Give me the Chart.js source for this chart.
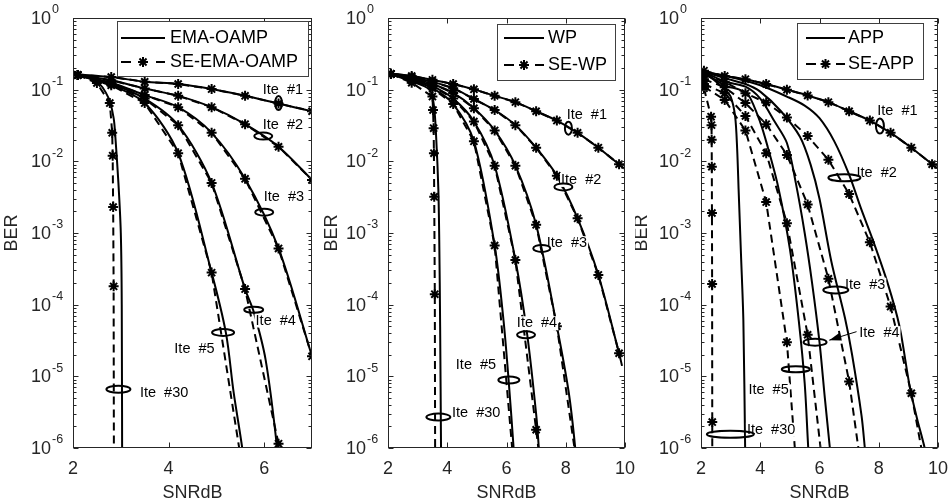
<!DOCTYPE html>
<html>
<head>
<meta charset="utf-8">
<script src="https://cdn.jsdelivr.net/npm/chart.js@4.4.0/dist/chart.umd.min.js"></script>
<style>
  html, body { margin: 0; padding: 0; background: #fff; }
  #wrap { position: relative; width: 950px; height: 504px; }
  canvas { position: absolute; top: 0; }
</style>
</head>
<body>
<div id="wrap">
  <canvas id="c1" width="320" height="504" style="left:0px"></canvas>
  <canvas id="c2" width="315" height="504" style="left:320px"></canvas>
  <canvas id="c3" width="315" height="504" style="left:635px"></canvas>
</div>
<script>
// axis ticks / labels
const snrTicks1 = [2, 4, 6];
const snrTicks23 = [2, 4, 6, 8, 10];
const berExp = [0, -1, -2, -3, -4, -5, -6];
const iteNames = ['Ite  #1', 'Ite  #2', 'Ite  #3', 'Ite  #4', 'Ite  #5', 'Ite  #30'];
const legendEma = ['EMA-OAMP', 'SE-EMA-OAMP'];
const legendWp = ['WP', 'SE-WP'];
const legendApp = ['APP', 'SE-APP'];

// ---- EMA-OAMP ----
const snrA = [2.1, 2.8, 3.5, 4.2, 4.9, 5.6, 6.3, 7.0];
const emaSe1 = [0.16, 0.15, 0.129, 0.12, 0.102, 0.082, 0.064, 0.05];
const emaSe2 = [0.16, 0.135, 0.104, 0.082, 0.057, 0.033, 0.016, 0.0055];
const emaSe3 = [0.16, 0.125, 0.084, 0.057, 0.025, 0.0057, 6.1e-4, 1.9e-5];
const emaSe4 = [0.16, 0.12, 0.075, 0.032, 0.005, 1.65e-4, 1.15e-6, 1e-9];
const emaSe5 = [0.16, 0.115, 0.065, 0.013, 2.8e-4, 3e-7];
const emaSe30X = [2.1, 2.5, 2.77, 2.82, 2.83, 2.84, 2.85, 2.86];
const emaSe30 = [0.16, 0.124, 0.065, 0.025, 0.012, 0.0023, 1.8e-4, 1e-8];

const emaSimX = [2, 2.8, 3.5, 4.2, 4.9, 5.6, 6.3, 7.0];
const emaSim1 = [0.165, 0.15, 0.129, 0.12, 0.102, 0.082, 0.064, 0.05];
const emaSim2 = [0.165, 0.135, 0.104, 0.082, 0.057, 0.033, 0.016, 0.0055];
const emaSim3 = [0.165, 0.125, 0.084, 0.057, 0.025, 0.0057, 6.1e-4, 1.9e-5];
const emaSim4X = [2, 2.8, 3.5, 4.2, 4.9, 5.6, 5.78, 6.03, 6.27, 6.32];
const emaSim4 = [0.165, 0.12, 0.075, 0.032, 0.005, 1.65e-4, 8e-5, 1.7e-5, 1e-6, 3e-7];
const emaSim5X = [2, 2.8, 3.5, 4.2, 4.9, 5.2, 5.36, 5.54, 5.58];
const emaSim5 = [0.165, 0.115, 0.065, 0.013, 2.8e-4, 4e-5, 6e-6, 1e-6, 5e-7];
const emaSim30X = [2, 2.5, 2.75, 2.85, 2.88, 2.95, 3.0, 3.02, 3.03];
const emaSim30 = [0.165, 0.13, 0.075, 0.04, 0.025, 0.005, 1e-3, 1e-4, 1e-7];

const emaOvalX = [6.3, 5.98, 6.0, 5.78, 5.14, 2.95];
const emaOvalY = [0.065, 0.0225, 0.00195, 8.5e-5, 4.1e-5, 6.6e-6];
const emaTagX = [5.97, 5.97, 5.99, 5.82, 4.12, 3.4];
const emaTagY = [0.1, 0.032, 0.0032, 6e-5, 2.4e-5, 5.9e-6];

// ---- WP ----
const snrB = [2.1, 2.8, 3.5, 4.2, 4.9, 5.6, 6.3, 7.0, 7.7, 8.4, 9.1, 9.8];
const wpSe1 = [0.166, 0.155, 0.137, 0.12, 0.101, 0.082, 0.067, 0.05, 0.037, 0.025, 0.0155, 0.0091];
const wpSe2 = [0.166, 0.15, 0.128, 0.105, 0.074, 0.052, 0.032, 0.0155, 0.0063, 0.0016, 2.6e-4, 2.1e-5];
const wpSe3 = [0.166, 0.145, 0.12, 0.09, 0.055, 0.027, 0.0087, 0.0013, 5e-5, 5e-7];
const wpSe4 = [0.166, 0.14, 0.112, 0.075, 0.036, 0.0087, 4.2e-4, 1.8e-6, 8e-9];
const wpSe5 = [0.166, 0.135, 0.105, 0.063, 0.019, 6.7e-4, 3e-7];
const wpSe30X = [2.1, 2.8, 3.5, 3.52, 3.54, 3.55, 3.56, 3.58, 3.6];
const wpSe30 = [0.166, 0.125, 0.08, 0.052, 0.029, 0.013, 0.0032, 1.4e-4, 1e-8];

const wpSim1X = [2, 2.8, 3.5, 4.2, 4.9, 5.6, 6.3, 7.0, 7.7, 8.4, 9.1, 9.8, 10];
const wpSim1 = [0.17, 0.155, 0.137, 0.12, 0.101, 0.082, 0.067, 0.05, 0.037, 0.025, 0.0155, 0.0091, 0.0078];
const wpSim2X = [2, 2.8, 3.5, 4.2, 4.9, 5.6, 6.3, 7.0, 7.7, 8.4, 9.1, 9.8, 9.9];
const wpSim2 = [0.17, 0.15, 0.128, 0.105, 0.074, 0.052, 0.032, 0.0155, 0.0063, 0.0016, 2.6e-4, 2.1e-5, 1.4e-5];
const wpSim3X = [2, 2.8, 3.5, 4.2, 4.9, 5.6, 6.3, 7.0, 7.7, 8.1, 8.32, 8.36];
const wpSim3 = [0.17, 0.145, 0.12, 0.09, 0.055, 0.027, 0.0087, 0.0013, 5e-5, 6e-6, 1e-6, 5e-7];
const wpSim4X = [2, 2.8, 3.5, 4.2, 4.9, 5.6, 6.3, 6.7, 7.0, 7.09, 7.12];
const wpSim4 = [0.17, 0.14, 0.112, 0.075, 0.036, 0.0087, 4.2e-4, 3.8e-5, 3e-6, 1e-6, 5e-7];
const wpSim5X = [2, 2.8, 3.5, 4.2, 4.9, 5.6, 5.9, 6.07, 6.24, 6.28];
const wpSim5 = [0.17, 0.135, 0.105, 0.063, 0.019, 6.7e-4, 6e-5, 9e-6, 1e-6, 5e-7];
const wpSim30X = [2, 2.8, 3.4, 3.55, 3.63, 3.7, 3.73, 3.76, 3.79, 3.8];
const wpSim30 = [0.17, 0.13, 0.1, 0.06, 0.02, 0.004, 8e-4, 5e-5, 1e-6, 3e-7];

const wpOvalX = [8.09, 7.92, 7.19, 6.66, 6.08, 3.7];
const wpOvalY = [0.029, 0.0044, 6.1e-4, 3.8e-5, 8.9e-6, 2.7e-6];
const wpTagX = [8.03, 7.84, 7.36, 6.35, 4.29, 4.16];
const wpTagY = [0.044, 0.0055, 7.2e-4, 5.5e-5, 1.45e-5, 3.1e-6];

// ---- APP ----
const snrC = [2.1, 2.8, 3.5, 4.2, 4.9, 5.6, 6.3, 7.0, 7.7, 8.4, 9.1, 9.8];
const appSe1 = [0.184, 0.155, 0.14, 0.12, 0.1, 0.083, 0.067, 0.05, 0.037, 0.025, 0.0155, 0.0091];
const appSe2 = [0.16, 0.129, 0.089, 0.066, 0.041, 0.0225, 0.0105, 0.0035, 7.4e-4, 9.4e-5, 5.8e-6, 1.5e-7];
const appSe3 = [0.14, 0.108, 0.065, 0.033, 0.0123, 0.0025, 2.3e-4, 8.5e-6, 7e-8];
const appSe4 = [0.12, 0.089, 0.043, 0.013, 0.00137, 3.8e-5, 1.1e-7];
const appSe5 = [0.11, 0.072, 0.027, 0.0027, 3e-5, 4e-9];
const appSe30X = [2.1, 2.34, 2.355, 2.36, 2.365, 2.37, 2.375, 2.38, 2.385];
const appSe30 = [0.105, 0.042, 0.032, 0.02, 0.0084, 0.0019, 1.94e-4, 2.3e-6, 1e-8];

const appSim1X = [2, 2.8, 3.5, 4.2, 4.9, 5.6, 6.3, 7.0, 7.7, 8.4, 9.1, 9.8, 10];
const appSim1 = [0.184, 0.155, 0.14, 0.12, 0.1, 0.083, 0.067, 0.05, 0.037, 0.025, 0.0155, 0.0091, 0.0079];
const appSim2X = [2, 3, 4, 4.9, 5.5, 6.0, 6.5, 7.0, 7.4, 7.8, 8.3, 8.7, 9.05, 9.3, 9.55, 9.6];
const appSim2 = [0.184, 0.15, 0.115, 0.08, 0.06, 0.04, 0.019, 0.0065, 0.0022, 8e-4, 2e-4, 5e-5, 7e-6, 2.5e-6, 1e-6, 7e-7];
const appSim3X = [2, 2.8, 3.5, 4.0, 4.7, 5.34, 5.7, 6.0, 6.4, 6.86, 7.1, 7.42, 7.53, 7.58];
const appSim3 = [0.184, 0.145, 0.12, 0.094, 0.05, 0.022, 0.009, 0.003, 4e-4, 6.5e-5, 2e-5, 2.8e-6, 1e-6, 6e-7];
const appSim4X = [2, 2.8, 3.5, 4.0, 4.5, 4.9, 5.2, 5.5, 5.75, 6.0, 6.18, 6.35, 6.4];
const appSim4 = [0.184, 0.13, 0.11, 0.075, 0.035, 0.018, 0.005, 0.001, 2e-4, 3e-5, 5e-6, 1e-6, 6e-7];
const appSim5X = [2, 2.8, 3.3, 3.6, 4.0, 4.25, 4.6, 5.0, 5.3, 5.5, 5.62, 5.66];
const appSim5 = [0.184, 0.115, 0.1, 0.085, 0.035, 0.016, 0.0045, 6e-4, 6e-5, 8e-6, 1e-6, 6e-7];
const appSim30X = [2, 2.5, 2.8, 3.0, 3.15, 3.22, 3.27, 3.35, 3.43, 3.49, 3.5];
const appSim30 = [0.184, 0.13, 0.1, 0.08, 0.043, 0.015, 0.004, 5e-4, 6e-5, 1e-6, 6e-7];

const appOvalX = [8.04, 6.84, 6.55, 5.85, 5.2, 2.99];
const appOvalY = [0.031, 0.0059, 1.6e-4, 3e-5, 1.26e-5, 1.56e-6];
const appTagX = [7.95, 7.25, 6.86, 7.34, 3.6, 3.55];
const appTagY = [0.051, 0.0069, 1.9e-4, 4e-5, 6.5e-6, 1.8e-6];
const appArrowX = [7.25, 6.33];
const appArrowY = [4.2e-5, 3.2e-5];

const FONT = '"Liberation Sans", Arial, sans-serif';

function pts(xs, ys) {
    return ys.map(function (y, i) { return { x: xs[i], y: y }; });
}

function simLine(xs, ys) {
    return {
        data: pts(xs, ys),
        borderColor: '#000',
        borderWidth: 2,
        pointRadius: 0,
        tension: 0.3,
        clip: 0
    };
}

function seLine(xs, ys) {
    return {
        data: pts(xs, ys),
        borderColor: '#000',
        borderWidth: 2,
        borderDash: [8, 5],
        tension: 0,
        pointStyle: 'star',
        pointRadius: 5,
        pointBorderWidth: 2,
        pointBorderColor: '#000',
        pointBackgroundColor: '#000',
        clip: 0
    };
}

function star(ctx, x, y, r) {
    const d = r * Math.SQRT1_2;
    ctx.beginPath();
    ctx.moveTo(x - r, y); ctx.lineTo(x + r, y);
    ctx.moveTo(x, y - r); ctx.lineTo(x, y + r);
    ctx.moveTo(x - d, y - d); ctx.lineTo(x + d, y + d);
    ctx.moveTo(x - d, y + d); ctx.lineTo(x + d, y - d);
    ctx.stroke();
}

//dibujo de marco, etiquetas y leyenda
function decoPlugin(d) {
    return {
        id: 'deco',
        afterDraw(chart) {
            const ctx = chart.ctx;
            const a = chart.chartArea;
            const xs = chart.scales.x;
            const ys = chart.scales.y;
            ctx.save();

            // ite labels (white backing hides the lines)
            ctx.font = '14.5px ' + FONT;
            ctx.textBaseline = 'middle';
            ctx.textAlign = 'left';
            d.tagX.forEach(function (tx, i) {
                const px = xs.getPixelForValue(tx);
                const py = ys.getPixelForValue(d.tagY[i]);
                const w = ctx.measureText(iteNames[i]).width;
                ctx.fillStyle = '#fff';
                ctx.fillRect(px - 1, py - 7, w + 2, 14);
                ctx.fillStyle = '#000';
                ctx.fillText(iteNames[i], px, py);
            });

            // ovals
            ctx.strokeStyle = '#000';
            ctx.lineWidth = 2;
            d.ovalX.forEach(function (ox, i) {
                ctx.beginPath();
                ctx.ellipse(xs.getPixelForValue(ox), ys.getPixelForValue(d.ovalY[i]),
                    d.ovalW[i] / 2, d.ovalH[i] / 2, 0, 0, Math.PI * 2);
                ctx.stroke();
            });

            // arrow
            if (d.arrowX) {
                const x0 = xs.getPixelForValue(d.arrowX[0]), y0 = ys.getPixelForValue(d.arrowY[0]);
                const x1 = xs.getPixelForValue(d.arrowX[1]), y1 = ys.getPixelForValue(d.arrowY[1]);
                const ang = Math.atan2(y1 - y0, x1 - x0);
                ctx.lineWidth = 1;
                ctx.beginPath();
                ctx.moveTo(x0, y0);
                ctx.lineTo(x1, y1);
                ctx.stroke();
                ctx.fillStyle = '#000';
                ctx.beginPath();
                ctx.moveTo(x1, y1);
                ctx.lineTo(x1 - 12 * Math.cos(ang) + 4 * Math.sin(ang), y1 - 12 * Math.sin(ang) - 4 * Math.cos(ang));
                ctx.lineTo(x1 - 12 * Math.cos(ang) - 4 * Math.sin(ang), y1 - 12 * Math.sin(ang) + 4 * Math.cos(ang));
                ctx.closePath();
                ctx.fill();
            }

            // box and inward ticks
            const L = Math.round(a.left) + 0.5, R = Math.round(a.right) - 0.5;
            const T = Math.round(a.top) + 0.5, B = Math.round(a.bottom) - 0.5;
            ctx.strokeStyle = '#262626';
            ctx.lineWidth = 1;
            ctx.strokeRect(L, T, R - L, B - T);
            ctx.beginPath();
            d.xTicks.forEach(function (v) {
                const p = Math.round(xs.getPixelForValue(v)) + 0.5;
                ctx.moveTo(p, B); ctx.lineTo(p, B - 5);
                ctx.moveTo(p, T); ctx.lineTo(p, T + 5);
            });
            berExp.forEach(function (e) {
                for (let m = 1; m < 10; m++) {
                    const v = m * Math.pow(10, e);
                    if (v > 1) continue;
                    const len = m === 1 ? 5 : 3;
                    const p = Math.round(ys.getPixelForValue(v)) + 0.5;
                    ctx.moveTo(L, p); ctx.lineTo(L + len, p);
                    ctx.moveTo(R, p); ctx.lineTo(R - len, p);
                }
            });
            ctx.stroke();

            // tick labels
            ctx.fillStyle = '#262626';
            ctx.font = '18px ' + FONT;
            ctx.textAlign = 'center';
            d.xTicks.forEach(function (v) {
                ctx.fillText(String(v), xs.getPixelForValue(v), a.bottom + 21);
            });
            berExp.forEach(function (e) {
                const py = ys.getPixelForValue(Math.pow(10, e));
                ctx.font = '18px ' + FONT;
                ctx.textAlign = 'right';
                ctx.fillText('10', a.left - 22, py + 1);
                ctx.font = '12.5px ' + FONT;
                ctx.textAlign = 'left';
                ctx.fillText(String(e), a.left - 21, py - 8);
            });

            // axis titles
            ctx.font = '18px ' + FONT;
            ctx.textAlign = 'center';
            ctx.fillText('SNRdB', (a.left + a.right) / 2, 493);
            ctx.save();
            ctx.translate(d.berX, (a.top + a.bottom) / 2);
            ctx.rotate(-Math.PI / 2);
            ctx.fillText('BER', 0, 0);
            ctx.restore();

            // legend
            const g = d.legend;
            ctx.fillStyle = '#fff';
            ctx.fillRect(g.x, g.y, g.w, g.h);
            ctx.strokeStyle = '#404040';
            ctx.lineWidth = 1;
            ctx.strokeRect(g.x + 0.5, g.y + 0.5, g.w, g.h);
            ctx.strokeStyle = '#000';
            ctx.lineWidth = 2;
            ctx.beginPath();
            ctx.moveTo(g.l1, g.r1); ctx.lineTo(g.l2, g.r1);
            ctx.moveTo(g.l1, g.r2); ctx.lineTo(g.l1 + 10, g.r2);
            ctx.moveTo(g.l2 - 9, g.r2); ctx.lineTo(g.l2, g.r2);
            ctx.stroke();
            star(ctx, (g.l1 + g.l2) / 2, g.r2, 5);
            ctx.fillStyle = '#000';
            ctx.font = '18px ' + FONT;
            ctx.textAlign = 'left';
            ctx.fillText(g.names[0], g.tx, g.r1);
            ctx.fillText(g.names[1], g.tx, g.r2);

            ctx.restore();
        }
    };
}

function makeChart(id, xMax, padL, padR, datasets, deco) {
    return new Chart(document.getElementById(id), {
        type: 'line',
        data: { datasets: datasets },
        options: {
            responsive: false,
            animation: false,
            events: [],
            layout: { padding: { left: padL, right: padR, top: 18, bottom: 56 } },
            plugins: {
                legend: { display: false },
                tooltip: { enabled: false }
            },
            scales: {
                x: { type: 'linear', min: 2, max: xMax, display: false },
                y: { type: 'logarithmic', min: 1e-6, max: 1, display: false }
            }
        },
        plugins: [decoPlugin(deco)]
    });
}

//grafica EMA-OAMP
makeChart('c1', 7, 73, 8, [
    simLine(emaSimX, emaSim1), simLine(emaSimX, emaSim2), simLine(emaSimX, emaSim3),
    simLine(emaSim4X, emaSim4), simLine(emaSim5X, emaSim5), simLine(emaSim30X, emaSim30),
    seLine(snrA, emaSe1), seLine(snrA, emaSe2), seLine(snrA, emaSe3),
    seLine(snrA, emaSe4), seLine(snrA, emaSe5), seLine(emaSe30X, emaSe30)
], {
    xTicks: snrTicks1,
    ovalX: emaOvalX, ovalY: emaOvalY,
    ovalW: [7, 18, 18, 19, 22, 24], ovalH: [14, 7, 7, 6, 7, 7],
    tagX: emaTagX, tagY: emaTagY,
    berX: 12,
    legend: { x: 117, y: 21, w: 191, h: 55, r1: 38, r2: 62, l1: 121, l2: 165, tx: 170, names: legendEma }
});

//grafica WP
makeChart('c2', 10, 68, 10, [
    simLine(wpSim1X, wpSim1), simLine(wpSim2X, wpSim2), simLine(wpSim3X, wpSim3),
    simLine(wpSim4X, wpSim4), simLine(wpSim5X, wpSim5), simLine(wpSim30X, wpSim30),
    seLine(snrB, wpSe1), seLine(snrB, wpSe2), seLine(snrB, wpSe3),
    seLine(snrB, wpSe4), seLine(snrB, wpSe5), seLine(wpSe30X, wpSe30)
], {
    xTicks: snrTicks23,
    ovalX: wpOvalX, ovalY: wpOvalY,
    ovalW: [7, 18, 17, 18, 21, 24], ovalH: [13, 7, 7, 7, 7, 7],
    tagX: wpTagX, tagY: wpTagY,
    berX: 12,
    legend: { x: 177, y: 24, w: 118, h: 56, r1: 38, r2: 65, l1: 184, l2: 224, tx: 228, names: legendWp }
});

//grafica APP
makeChart('c3', 10, 66, 12, [
    simLine(appSim1X, appSim1), simLine(appSim2X, appSim2), simLine(appSim3X, appSim3),
    simLine(appSim4X, appSim4), simLine(appSim5X, appSim5), simLine(appSim30X, appSim30),
    seLine(snrC, appSe1), seLine(snrC, appSe2), seLine(snrC, appSe3),
    seLine(snrC, appSe4), seLine(snrC, appSe5), seLine(appSe30X, appSe30)
], {
    xTicks: snrTicks23,
    ovalX: appOvalX, ovalY: appOvalY,
    ovalW: [8, 32, 25, 23, 28, 47], ovalH: [15, 7, 7, 7, 6, 7],
    tagX: appTagX, tagY: appTagY,
    arrowX: appArrowX, arrowY: appArrowY,
    berX: 7,
    legend: { x: 162, y: 23, w: 126, h: 56, r1: 38, r2: 64, l1: 171, l2: 210, tx: 213, names: legendApp }
});
</script>
</body>
</html>
